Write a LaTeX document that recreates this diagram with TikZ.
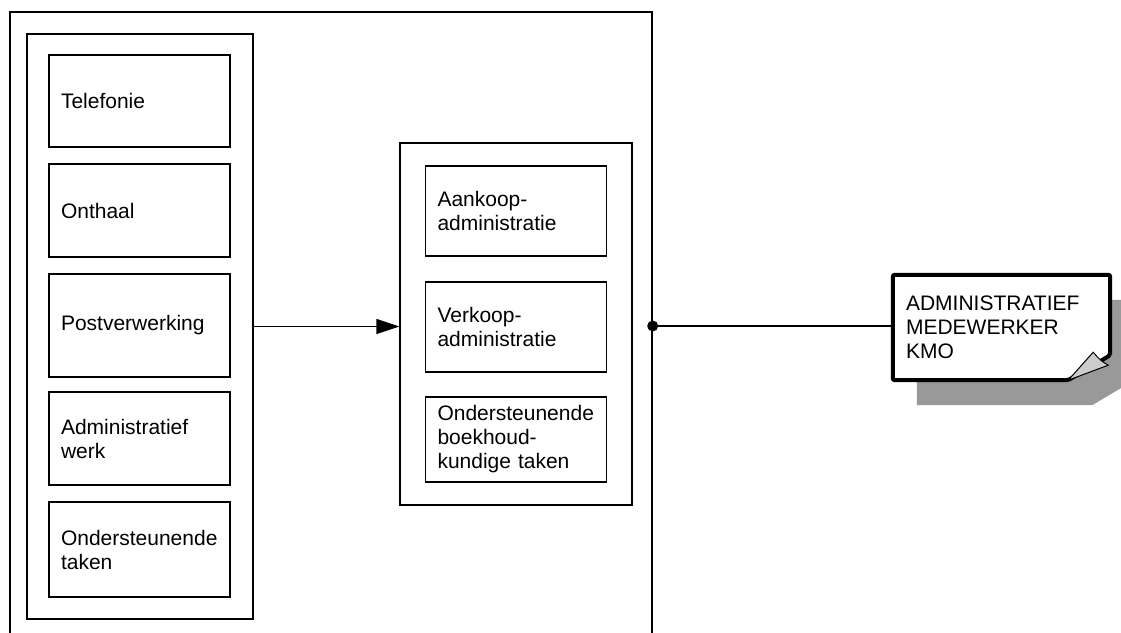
\documentclass[tikz,border=0pt]{standalone}
\usepackage{fontspec}
\setmainfont{Liberation Sans}
\usetikzlibrary{arrows.meta}
\pgfdeclarelayer{background}
\pgfsetlayers{background,main}
\tikzset{
  frame/.style={draw, line width=1.4pt},
  taskbox/.style={draw, line width=1.4pt, minimum width=181pt, text width=157pt,
    inner xsep=12pt, align=left, font=\fontsize{21}{24}\selectfont},
  doctext/.style={minimum width=217pt, minimum height=105pt, text width=191pt,
    inner xsep=13pt, align=left, font=\fontsize{21}{24}\selectfont},
}
\begin{document}
\begin{tikzpicture}[x=1pt, y=-1pt]
        \useasboundingbox (0,0) rectangle (1121,632);
        % outer frame and the two columns
        \node[frame, minimum width=642pt, minimum height=628pt] (outer) at (331,326) {};
        \node[frame, minimum width=226pt, minimum height=585pt] (left) at (140,326.5) {};
        \node[frame, minimum width=232pt, minimum height=362pt] (mid) at (516,324) {};
        % left column tasks
        \foreach \n/\y/\h/\t in {tel/101/92/Telefonie, ont/210.5/93/Onthaal,
            post/325.5/103/Postverwerking, adm/438.5/93/{Administratief\\werk},
            ond/549.5/95/{Ondersteunende\\taken}} {
            \node[taskbox, minimum height=\h pt] (\n) at (139.5,\y) {\t};
        }
        % middle column tasks
        \foreach \n/\y/\h/\t in {aank/211/90/{Aankoop-\\administratie},
            verk/327/90/{Verkoop-\\administratie},
            boek/439.5/85/{Ondersteunende\\boekhoud-\\kundige taken}} {
            \node[taskbox, minimum height=\h pt] (\n) at (516,\y) {\t};
        }
        % document
        \node[doctext] (doc) at (1001.5,327.5) {ADMINISTRATIEF\\MEDEWERKER\\KMO};
        \begin{pgfonlayer}{background}
            \fill[black!40] ([shift={(24,25)}]doc.north west) -- ([shift={(24,25)}]doc.north east)
                -- ([shift={(24,0)}]doc.south east) -- ([shift={(-18,25)}]doc.south east)
                -- ([shift={(24,25)}]doc.south west) -- cycle;
            \fill[white] (doc.north west) -- (doc.north east) -- ([yshift=25pt]doc.south east)
                -- ([xshift=-42pt]doc.south east) -- (doc.south west) -- cycle;
        \end{pgfonlayer}
        \draw[line width=4pt, rounded corners=2pt] (doc.north west) -- (doc.north east)
            -- ([yshift=25pt]doc.south east) -- ([xshift=-42pt]doc.south east)
            -- (doc.south west) -- cycle;
        \draw[fill=black!20, line width=1pt] ([xshift=-42pt]doc.south east)
            -- ([xshift=-17pt,yshift=28pt]doc.south east)
            .. controls ([xshift=-10pt,yshift=20pt]doc.south east) .. ([xshift=-2pt,yshift=15pt]doc.south east)
            -- cycle;
        % connectors
        \draw[line width=1.4pt, -{Triangle[length=23pt,width=15pt]}] (left.east) -- (left.east -| mid.west);
        \draw[line width=1.4pt] (outer.east) -- (outer.east -| doc.west);
        \fill (outer.east) circle (5.5pt);
\end{tikzpicture}
\end{document}
